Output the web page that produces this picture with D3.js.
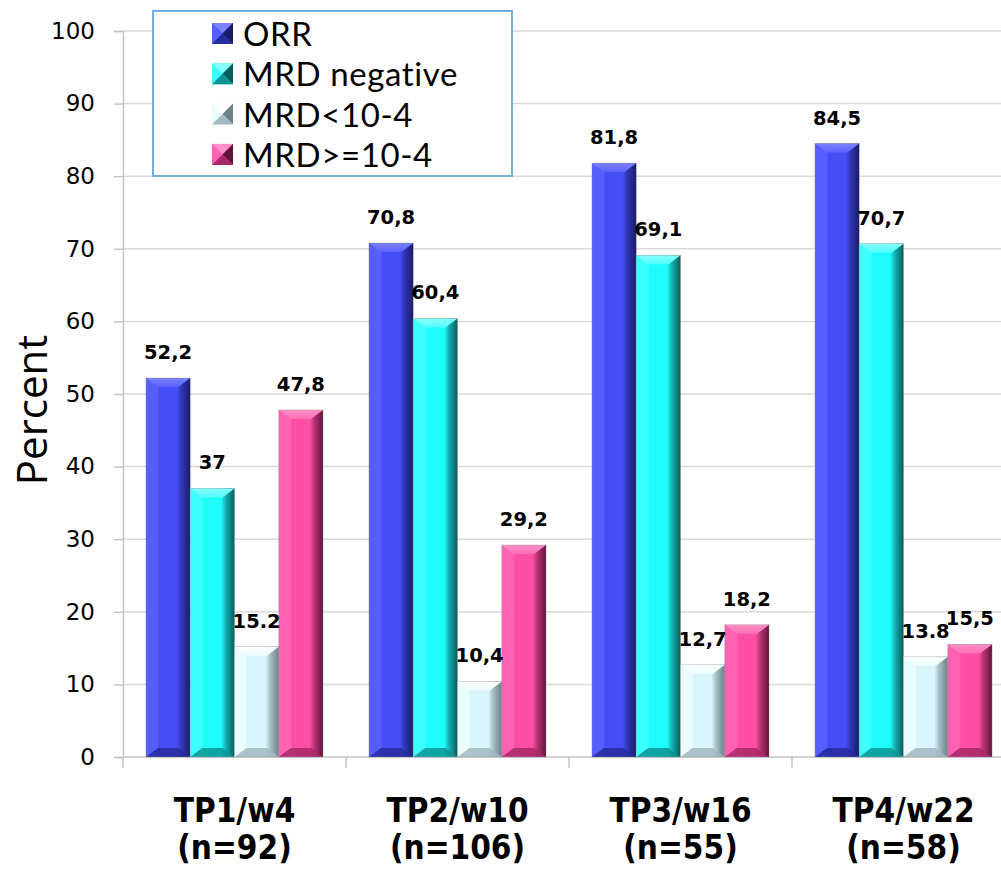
<!DOCTYPE html>
<html>
<head>
<meta charset="utf-8">
<script src="https://cdn.jsdelivr.net/npm/d3@7"></script>
<style>
  html, body { margin: 0; padding: 0; background: #ffffff; overflow: hidden; }
  svg { display: block; }
</style>
</head>
<body>
<script>
// ---------- DATA ----------
const categories = ["TP1/w4", "TP2/w10", "TP3/w16", "TP4/w22"];
const categorySub = ["(n=92)", "(n=106)", "(n=55)", "(n=58)"];
const seriesNames = ["ORR", "MRD negative", "MRD<10-4", "MRD>=10-4"];
const orr = [52.2, 70.8, 81.8, 84.5];
const mrdNegative = [37, 60.4, 69.1, 70.7];
const mrdBelow = [15.2, 10.4, 12.7, 13.8];
const mrdAbove = [47.8, 29.2, 18.2, 15.5];
const valueLabels = [
  ["52,2", "70,8", "81,8", "84,5"],
  ["37", "60,4", "69,1", "70,7"],
  ["15.2", "10,4", "12,7", "13.8"],
  ["47,8", "29,2", "18,2", "15,5"]
];
const yTicks = [0, 10, 20, 30, 40, 50, 60, 70, 80, 90, 100];

// ---------- STYLE ----------
const palette = [
  { light: "#565eff", main: "#454df5", dark: "#181c66", top: "#7b82ff", topEnd: "#5a61fb", bottom: "#262c9c" },
  { light: "#3dffff", main: "#1ffbfb", dark: "#075c5c", top: "#8afefe", topEnd: "#4ffcfc", bottom: "#0e9494" },
  { light: "#eafcff", main: "#d8f5fb", dark: "#6a8288", top: "#ffffff", topEnd: "#ecfcff", bottom: "#a2b9bf" },
  { light: "#ff62b2", main: "#fc4ea4", dark: "#62133b", top: "#ff90c8", topEnd: "#ff6db5", bottom: "#a8296a" }
];

(function () {
const W = 1001, H = 869;
const svg = d3.select("body").append("svg").attr("width", W).attr("height", H);
const defs = svg.append("defs");

palette.forEach((p, i) => {
  const g = defs.append("linearGradient").attr("id", "bar" + i)
    .attr("x1", "0").attr("x2", "1").attr("y1", "0").attr("y2", "0");
  [[0, p.light], [0.26, p.light], [0.3, p.main], [0.7, p.main], [0.8, d3.interpolateRgb(p.main, p.dark)(0.45)], [1, p.dark]]
    .forEach(([o, c]) => g.append("stop").attr("offset", o).attr("stop-color", c));
  const t = defs.append("linearGradient").attr("id", "top" + i)
    .attr("x1", "0").attr("x2", "0").attr("y1", "0").attr("y2", "1");
  t.append("stop").attr("offset", 0).attr("stop-color", p.top);
  t.append("stop").attr("offset", 1).attr("stop-color", p.topEnd);
});

const plotLeft = 123, plotRight = 1015, plotTop = 31, plotBottom = 757;
const x0 = d3.scaleBand().domain(categories).range([plotLeft, plotRight]).paddingInner(0.206).paddingOuter(0.103);
const x1 = d3.scaleBand().domain(d3.range(4)).range([0, x0.bandwidth()]);
const y = d3.scaleLinear().domain([0, 100]).range([plotBottom, plotTop]);

// gridlines
svg.append("g").selectAll("line").data(yTicks.filter(d => d > 0)).join("line")
  .attr("x1", plotLeft).attr("x2", W).attr("y1", d => y(d)).attr("y2", d => y(d))
  .attr("stroke", "#d9d9d9").attr("stroke-width", 1.5);

// y axis
const yAxis = svg.append("g").attr("transform", `translate(${plotLeft},0)`)
  .call(d3.axisLeft(y).tickValues(yTicks).tickSize(9).tickPadding(19));
yAxis.select(".domain").attr("stroke", "#c4c4c4").attr("stroke-width", 1.5);
yAxis.selectAll(".tick line").attr("stroke", "#c4c4c4").attr("stroke-width", 1.5);
yAxis.selectAll(".tick text").attr("font-family", "'DejaVu Sans', sans-serif")
  .attr("font-size", 23).attr("fill", "#000");

// x axis line + boundary ticks
svg.append("line").attr("x1", plotLeft).attr("x2", W).attr("y1", plotBottom).attr("y2", plotBottom)
  .attr("stroke", "#c4c4c4").attr("stroke-width", 1.5);
const boundaries = categories.map(c => x0(c) - x0.step() * x0.paddingInner() / 2);
boundaries[0] = plotLeft;
svg.append("g").selectAll("line").data(boundaries).join("line")
  .attr("x1", d => d).attr("x2", d => d).attr("y1", plotBottom).attr("y2", plotBottom + 11)
  .attr("stroke", "#c4c4c4").attr("stroke-width", 1.5);

// bars
const seriesValues = [orr, mrdNegative, mrdBelow, mrdAbove];
const bars = [];
categories.forEach((c, ci) => {
  seriesValues.forEach((vals, si) => {
    bars.push({ c, ci, si, v: vals[ci], label: valueLabels[si][ci] });
  });
});

const barG = svg.append("g");
const labelG = svg.append("g");
bars.forEach(b => {
  const bx = x0(b.c) + x1(b.si);
  const bw = x1.bandwidth();
  const by = y(b.v);
  const bb = y(0);
  const p = palette[b.si];
  const inset = Math.min(12, bw * 0.27);
  const bev = 9;
  const g = barG.append("g");
  g.append("rect").attr("x", bx).attr("y", by).attr("width", bw).attr("height", bb - by)
    .attr("fill", `url(#bar${b.si})`);
  g.append("path")
    .attr("d", `M${bx},${by}L${bx + bw},${by}L${bx + bw - inset},${by + bev}L${bx + inset},${by + bev}Z`)
    .attr("fill", `url(#top${b.si})`);
  g.append("path")
    .attr("d", `M${bx},${bb}L${bx + bw},${bb}L${bx + bw - inset},${bb - bev}L${bx + inset},${bb - bev}Z`)
    .attr("fill", p.bottom).attr("opacity", 0.85);
  g.append("rect").attr("x", bx).attr("y", by).attr("width", bw).attr("height", bb - by)
    .attr("fill", "none").attr("stroke", "#8c8c8c").attr("stroke-opacity", 0.45).attr("stroke-width", 0.8);
  labelG.append("text").attr("x", bx + bw / 2).attr("y", by - 19)
    .attr("text-anchor", "middle").attr("font-family", "'DejaVu Sans', sans-serif")
    .attr("font-weight", "bold").attr("font-size", 19.5).attr("fill", "#000")
    .text(b.label);
});

// category labels
const catG = svg.append("g").attr("font-family", "'DejaVu Sans Condensed', 'DejaVu Sans', sans-serif")
  .attr("font-weight", "bold").attr("font-size", 33).attr("text-anchor", "middle")
  .style("font-stretch", "condensed");
categories.forEach((c, i) => {
  const cx = x0(c) + x0.bandwidth() / 2;
  catG.append("text").attr("x", cx).attr("y", 822).text(c);
  catG.append("text").attr("x", cx).attr("y", 859).text(categorySub[i]);
});

// y axis title
svg.append("text").attr("transform", "translate(47,410) rotate(-90)")
  .attr("text-anchor", "middle").attr("font-family", "'Open Sans', sans-serif")
  .attr("font-size", 42).attr("fill", "#000").text("Percent");

// legend
const lg = svg.append("g");
lg.append("rect").attr("x", 153).attr("y", 11).attr("width", 359).attr("height", 165)
  .attr("fill", "#fff").attr("stroke", "#74ade0").attr("stroke-width", 2);
seriesNames.forEach((n, i) => {
  const base = 46 + i * 40.3;
  const sx = 212, sy = base - 23, s = 21;
  const p = palette[i];
  const cx = sx + s / 2, cy = sy + s / 2;
  const tri = (pts, fill) => lg.append("path").attr("d", "M" + pts.map(q => q.join(",")).join("L") + "Z").attr("fill", fill);
  lg.append("rect").attr("x", sx).attr("y", sy).attr("width", s).attr("height", s).attr("fill", p.main);
  tri([[sx, sy], [sx + s, sy], [cx, cy]], p.top);
  tri([[sx, sy], [cx, cy], [sx, sy + s]], p.light);
  tri([[sx + s, sy], [sx + s, sy + s], [cx, cy]], p.dark);
  tri([[sx, sy + s], [sx + s, sy + s], [cx, cy]], p.bottom);
  lg.append("text").attr("x", 243).attr("y", base)
    .attr("font-family", "Lato, sans-serif").attr("font-size", 33).attr("letter-spacing", 0.6)
    .attr("fill", "#000").text(n);
});
})();
</script>
</body>
</html>
